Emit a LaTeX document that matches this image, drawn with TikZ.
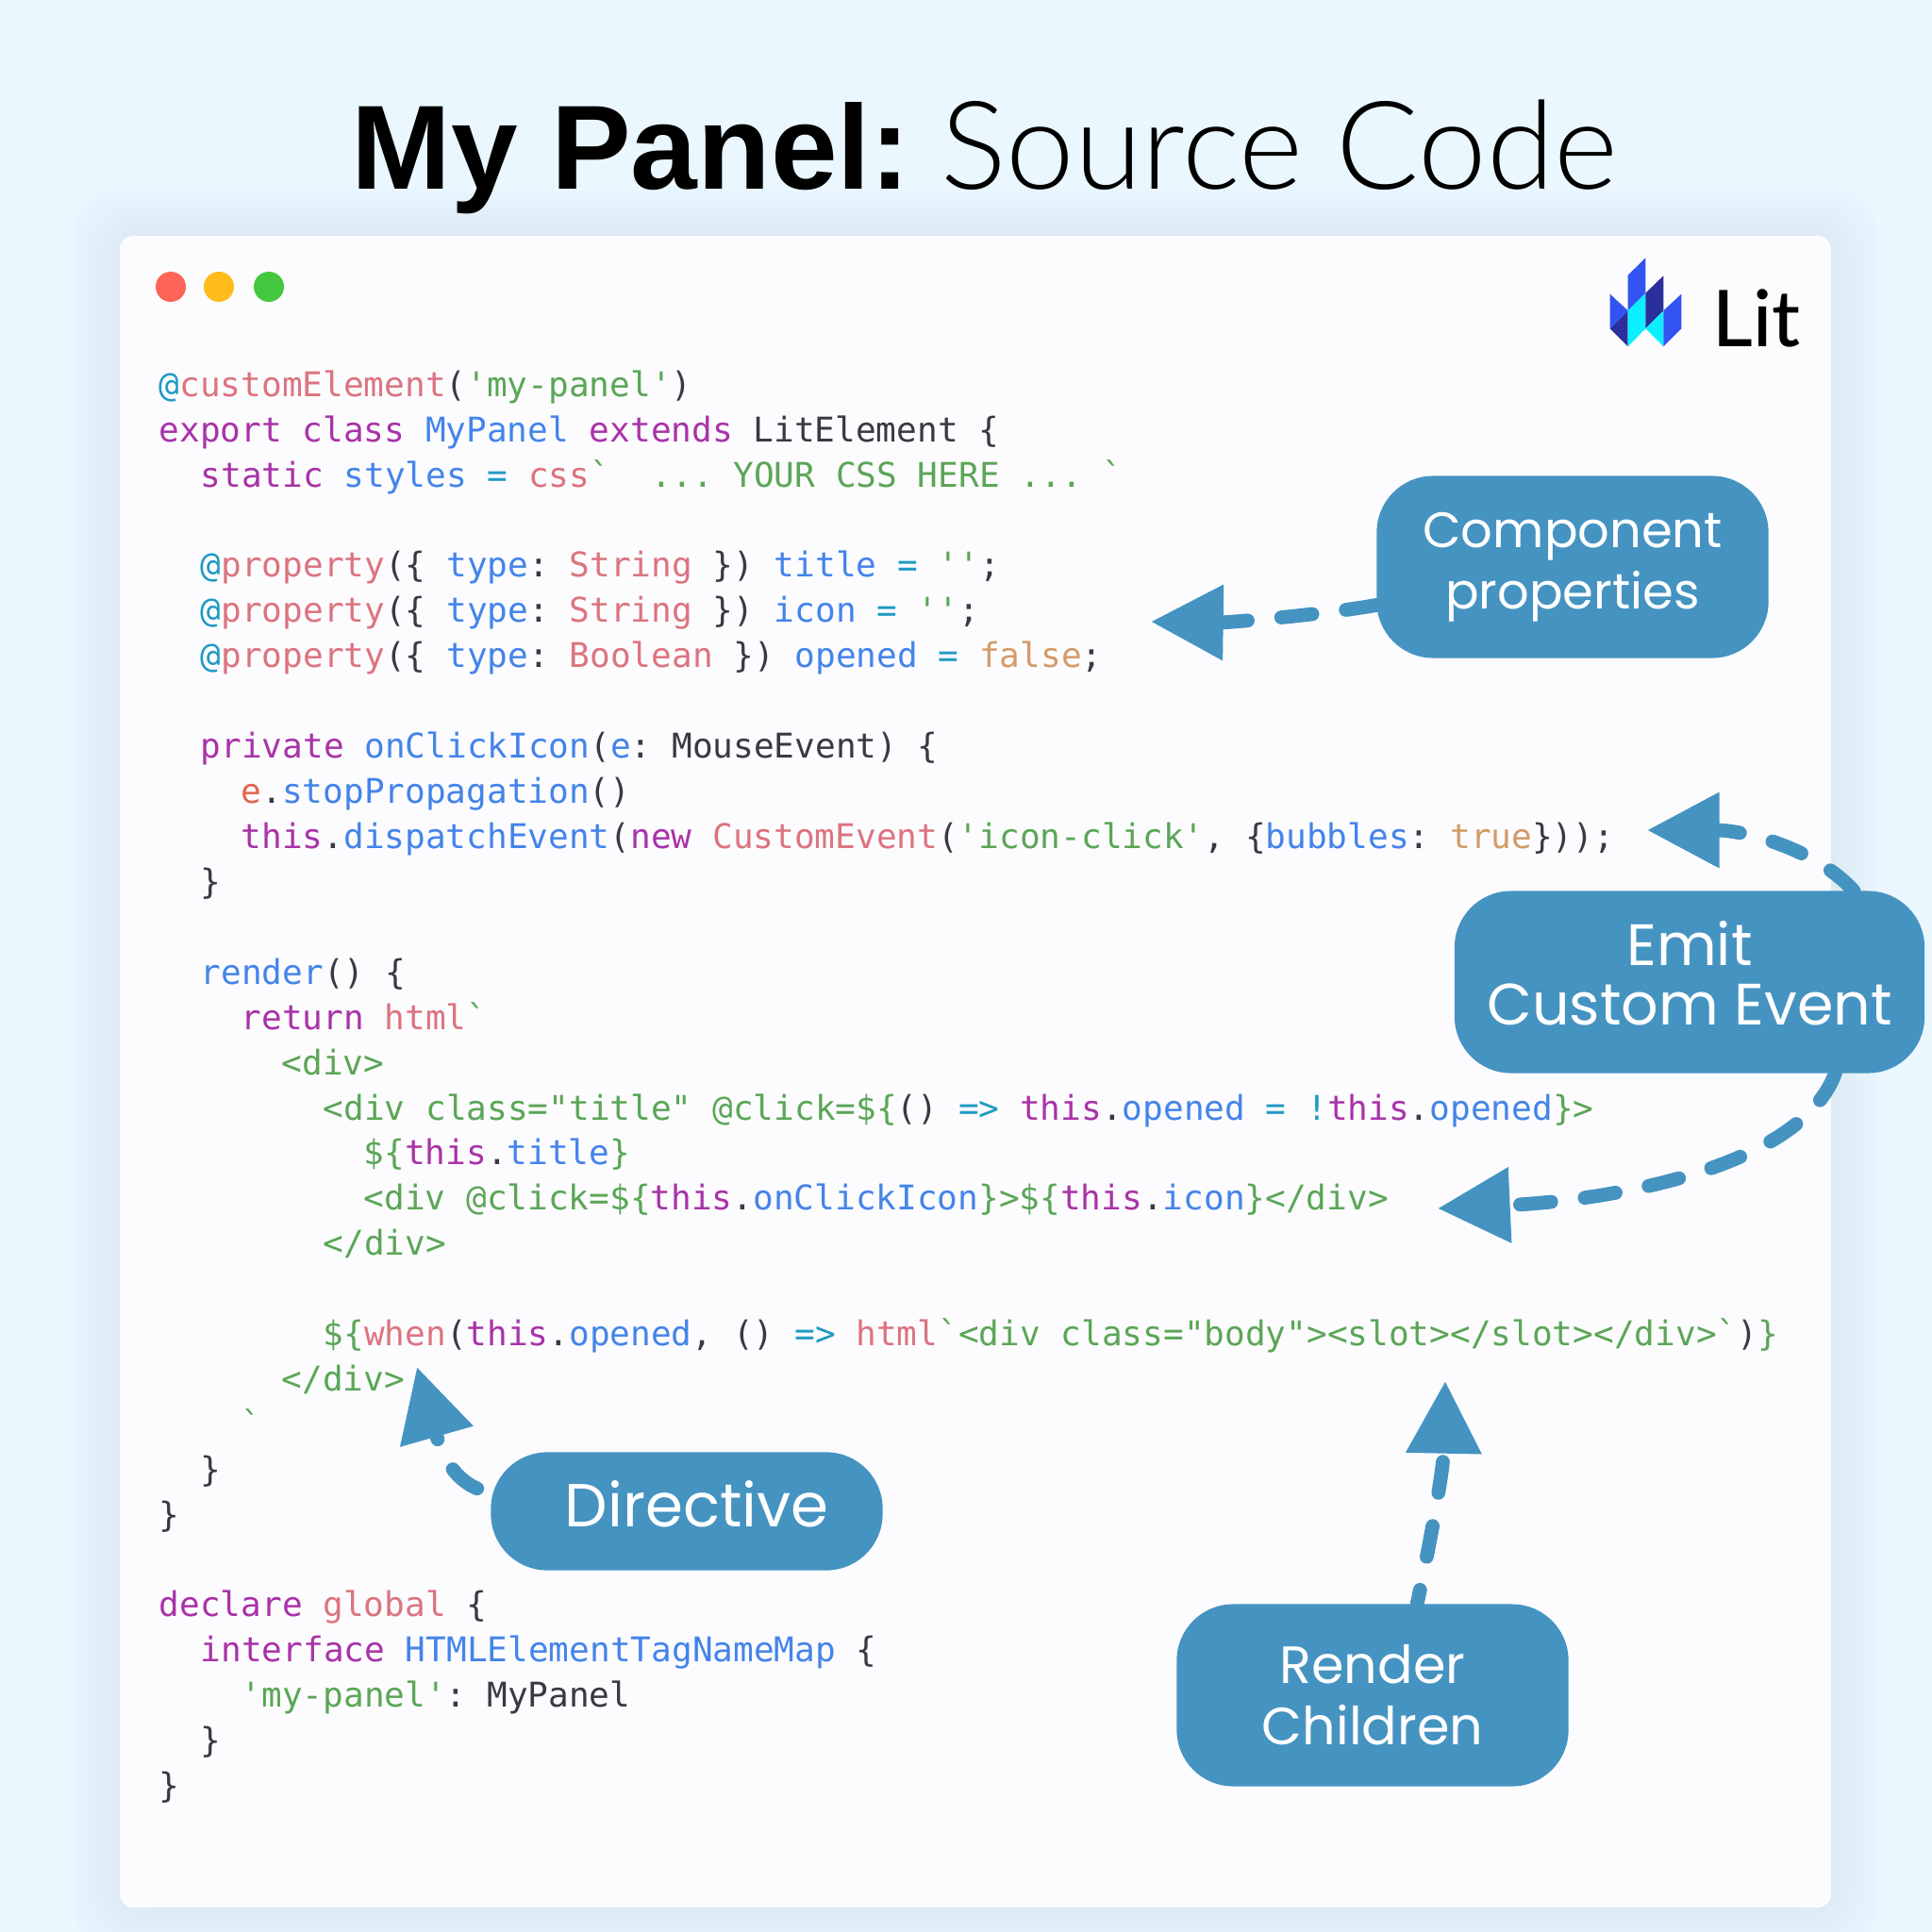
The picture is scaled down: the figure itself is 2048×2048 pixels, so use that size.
\documentclass[tikz,border=0pt]{standalone}
\usepackage{fontspec}
\setmainfont{Liberation Sans}
\setmonofont{DejaVu Sans Mono}
\newfontfamily\thinfont[UprightFont=* Light]{Lato}
\newfontfamily\handfont{Poppins}
\newfontfamily\logofont[UprightFont=* Medium]{Lato}
\usepackage{xcolor}
\usetikzlibrary{positioning, arrows.meta}

\definecolor{pagebg}{HTML}{EAF7FF}
\definecolor{shadowbg}{HTML}{C9D6EA}
\definecolor{panelbg}{HTML}{FCFCFE}
\definecolor{calloutbg}{HTML}{4593C1}
\definecolor{codeink}{HTML}{383A42}
\definecolor{codekwd}{HTML}{A933A8}
\definecolor{codefnc}{HTML}{DC7480}
\definecolor{codestr}{HTML}{5BA657}
\definecolor{codeidn}{HTML}{4484EA}
\definecolor{codeopr}{HTML}{1F9AC4}
\definecolor{codelit}{HTML}{D39B68}
\definecolor{codeerr}{HTML}{E0654F}
\definecolor{logoblue}{HTML}{3354F2}
\definecolor{logonavy}{HTML}{2A2F9C}
\definecolor{logocyan}{HTML}{0BEFFF}
\definecolor{btnredc}{HTML}{FF6458}
\definecolor{btnambc}{HTML}{FFBC1B}
\definecolor{btngrnc}{HTML}{45C83F}

\newcommand{\kwd}[1]{\textcolor{codekwd}{#1}}
\newcommand{\fnc}[1]{\textcolor{codefnc}{#1}}
\newcommand{\strg}[1]{\textcolor{codestr}{#1}}
\newcommand{\idn}[1]{\textcolor{codeidn}{#1}}
\newcommand{\opr}[1]{\textcolor{codeopr}{#1}}
\newcommand{\lit}[1]{\textcolor{codelit}{#1}}
\newcommand{\errv}[1]{\textcolor{codeerr}{#1}}

\tikzset{
  codeline/.style={anchor=base west, inner sep=0pt, text=codeink, font=\ttfamily\fontsize{10.26}{12}\selectfont},
  callout/.style={fill=calloutbg, text=white, rounded corners=17pt, inner sep=0pt, outer sep=0pt, align=center,
    minimum width=118.1pt, minimum height=54.9pt, font=\handfont\fontsize{15}{18.5}\selectfont},
  dashconn/.style={draw=calloutbg, line width=4.2pt, line cap=round, dash pattern=on 9.4pt off 10.2pt,
    -{Triangle[length=21.8pt,width=21.8pt]}},
  dotbtn/.style={circle, inner sep=0pt, outer sep=0pt, minimum size=9.1pt}
}

\begin{document}
\begin{tikzpicture}[x=0.01cm, y=-0.01cm]
  \useasboundingbox (0,0) rectangle (2048,2048);
  \fill [pagebg] (0,0) rectangle (2048,2048);                % page
  \foreach \s in {48,44,...,4}
    \fill [shadowbg, opacity=0.03, rounded corners=12pt] (127-\s,250-\s) rectangle (1941+\s,2022+\s);  % soft shadow
  \fill [panelbg, rounded corners=4pt] (127,250) rectangle (1941,2022);  % window

  % title
  \node [anchor=base west, inner sep=0pt, font=\fontsize{36.1}{44}\selectfont] (title) at (372,200)
    {\textbf{My Panel:}\hspace{9.2pt}{\thinfont\fontsize{37}{44}\selectfont Source Code}};

  % window buttons
  \node [dotbtn, fill=btnredc] (btnred) at (181,304) {};
  \node [dotbtn, fill=btnambc] (btnamb) at (232,304) {};
  \node [dotbtn, fill=btngrnc] (btngrn) at (285,304) {};

  % logo
  \fill [logoblue] (1706.7,311.7) -- (1725.7,329.3) -- (1706.7,348.3) -- cycle;
  \fill [logonavy] (1706.7,348.3) -- (1725.7,329.3) -- (1725.7,367.3) -- cycle;
  \fill [logoblue] (1725.7,291.7) -- (1744.3,273.3) -- (1744.3,310.7) -- (1725.7,329.3) -- cycle;
  \fill [logocyan] (1725.7,329.3) -- (1744.3,310.7) -- (1744.3,348.3) -- (1725.7,367.3) -- cycle;
  \fill [logonavy] (1744.3,310.7) -- (1763.3,292.3) -- (1763.3,329.3) -- (1744.3,348.3) -- cycle;
  \fill [logocyan] (1744.3,348.3) -- (1763.3,329.3) -- (1763.3,367.3) -- cycle;
  \fill [logoblue] (1763.3,329.3) -- (1782.3,311.7) -- (1782.3,348.3) -- (1763.3,367.3) -- cycle;
  \node [anchor=base west, inner sep=0pt, font=\logofont\fontsize{23.6}{26}\selectfont] (lit) at (1815,367) {Lit};

  % source code
  \node [codeline] (ln0) at (168,420) {\opr{@}\fnc{customElement}(\strg{'my-panel'})};
  \node [codeline] (ln1) at (168,468) {\kwd{export class} \idn{MyPanel} \kwd{extends} LitElement \{};
  \node [codeline] (ln2) at (212,516) {\kwd{static} \idn{styles} \opr{=} \fnc{css}\strg{`\ \ ... YOUR CSS HERE ... `}};
  \node [codeline] (ln4) at (212,611) {\opr{@}\fnc{property}(\{ \idn{type}: \fnc{String} \}) \idn{title} \opr{=} \strg{''};};
  \node [codeline] (ln5) at (212,659) {\opr{@}\fnc{property}(\{ \idn{type}: \fnc{String} \}) \idn{icon} \opr{=} \strg{''};};
  \node [codeline] (ln6) at (212,707) {\opr{@}\fnc{property}(\{ \idn{type}: \fnc{Boolean} \}) \idn{opened} \opr{=} \lit{false};};
  \node [codeline] (ln8) at (212,803) {\kwd{private} \idn{onClickIcon}(\idn{e}: MouseEvent) \{};
  \node [codeline] (ln9) at (255,851) {\errv{e}.\idn{stopPropagation}()};
  \node [codeline] (ln10) at (255,899) {\kwd{this}.\idn{dispatchEvent}(\kwd{new} \fnc{CustomEvent}(\strg{'icon-click'}, \{\idn{bubbles}: \lit{true}\}));};
  \node [codeline] (ln11) at (212,947) {\}};
  \node [codeline] (ln13) at (212,1043) {\idn{render}() \{};
  \node [codeline] (ln14) at (255,1091) {\kwd{return} \fnc{html}\strg{`}};
  \node [codeline] (ln15) at (298,1139) {\strg{<div>}};
  \node [codeline] (ln16) at (342,1187) {\strg{<div class="title" @click=\$\{}() \opr{=>} \kwd{this}.\idn{opened} \opr{=} \opr{!}\kwd{this}.\idn{opened}\strg{\}>}};
  \node [codeline] (ln17) at (385,1234) {\strg{\$\{}\kwd{this}.\idn{title}\strg{\}}};
  \node [codeline] (ln18) at (385,1282) {\strg{<div @click=\$\{}\kwd{this}.\idn{onClickIcon}\strg{\}>\$\{}\kwd{this}.\idn{icon}\strg{\}</div>}};
  \node [codeline] (ln19) at (342,1330) {\strg{</div>}};
  \node [codeline] (ln21) at (342,1426) {\strg{\$\{}\fnc{when}(\kwd{this}.\idn{opened}, () \opr{=>} \fnc{html}\strg{`<div class="body"><slot></slot></div>`})\strg{\}}};
  \node [codeline] (ln22) at (298,1474) {\strg{</div>}};
  \node [codeline] (ln23) at (255,1522) {\strg{`}};
  \node [codeline] (ln24) at (212,1570) {\}};
  \node [codeline] (ln25) at (168,1618) {\}};
  \node [codeline] (ln27) at (168,1713) {\kwd{declare} \fnc{global} \{};
  \node [codeline] (ln28) at (212,1761) {\kwd{interface} \idn{HTMLElementTagNameMap} \{};
  \node [codeline] (ln29) at (255,1809) {\strg{'my-panel'}: MyPanel};
  \node [codeline] (ln30) at (212,1857) {\}};
  \node [codeline] (ln31) at (168,1905) {\}};

  % callouts
  \node [callout] (cmpprops) at (1667,601) {Component\\properties};
  \node [callout, minimum width=141.7pt, font=\handfont\fontsize{17.6}{18}\selectfont] (emitevt) at (1791,1041) {Emit\\Custom Event\\[-12.4pt]\mbox{}};
  \node [callout, minimum height=35.6pt, font=\handfont\fontsize{18.3}{20}\selectfont] (dirctv) at (728,1602) {\hspace{6pt}Directive\\[-15.5pt]\mbox{}};
  \node [callout, font=\handfont\fontsize{15.8}{18.5}\selectfont] (rendkid) at (1455,1797) {Render\\Children};

  % free arrow ends
  \coordinate (tipcmp) at (1220,659);
  \coordinate (tipup) at (1746,880);
  \coordinate (tipdown) at (1524,1281);
  \coordinate (tipdir) at (442,1449);
  \coordinate (tipkid) at (1532,1464);

  \draw [dashconn] (cmpprops.191) .. controls (1400,652) and (1300,660) .. (tipcmp);
  \draw [dashconn] (emitevt.29) .. controls (1925,900) and (1850,880) .. (tipup);
  \draw [dashconn] (emitevt.-32) .. controls (1907,1241) and (1698,1273) .. (tipdown);
  \draw [dashconn, shorten <=4.5pt] (dirctv.175) .. controls (475,1565) and (465,1530) .. (tipdir);
  \draw [dashconn, dash phase=5pt] (rendkid.64) .. controls (1515,1640) and (1530,1560) .. (tipkid);
\end{tikzpicture}
\end{document}
